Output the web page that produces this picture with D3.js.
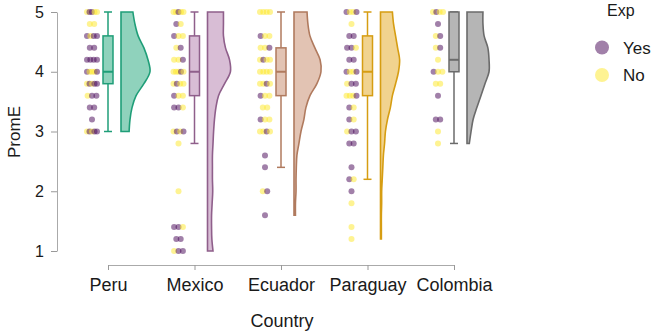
<!DOCTYPE html>
<html>
<head>
<meta charset="utf-8">
<script src="https://cdn.jsdelivr.net/npm/d3@7"></script>
<style>
  body { margin: 0; background: #fff; }
  text { font-family: "Liberation Sans", Arial, sans-serif; fill: #1a1a1a; }
</style>
</head>
<body>
<div id="chart"></div>
<script>
const countries = ["Peru", "Mexico", "Ecuador", "Paraguay", "Colombia"];
const yTicks = [1, 2, 3, 4, 5];
const expLevels = ["Yes", "No"];

// box stats: [lower whisker, q1, median, q3, upper whisker]
const boxStats = [
  [3.0, 3.8, 4.0, 4.6, 5.0],
  [2.8, 3.6, 4.0, 4.6, 5.0],
  [2.4, 3.6, 4.0, 4.4, 5.0],
  [2.2, 3.6, 4.0, 4.6, 5.0],
  [2.8, 4.0, 4.2, 5.0, 5.0]
];

// half-violin density, from 5.0 down in steps of 0.2
const densPeru = [.41, .48, .59, .79, .93, 1, .79, .52, .38, .31, .28];
const densMexico = [.55, .55, .55, .62, .76, .79, .59, .38, .29, .24, .21, .19, .17, .17, .17, .18, .16, .14, .14, .15, .19];
const densEcuador = [.45, .48, .55, .72, .9, .93, .79, .55, .41, .34, .24, .17, .1, .08, .07, .07, .05, .05];
const densParaguay = [.41, .45, .52, .59, .66, .62, .52, .41, .34, .24, .17, .14, .1, .08, .06, .04, .04, .03, .03, .03];
const densColombia = [.55, .55, .59, .72, .76, .76, .62, .48, .34, .21, .14, .08];

// points per row: [PromE, Exp codes (Y = Yes, N = No)]
const ptsPeru = [[5.0, "NYYNN"], [4.8, "NN"], [4.6, "YNYY"], [4.4, "YY"], [4.2, "YYYY"], [4.0, "YNNNY"],
  [3.8, "NYNYY"], [3.6, "NYY"], [3.4, "YY"], [3.2, "Y"], [3.0, "NYNYY"]];
const ptsMexico = [[5.0, "NNYNN"], [4.8, "YN"], [4.6, "YNN"], [4.4, "NY"], [4.2, "NNY"], [4.0, "NNNYN"],
  [3.8, "NYNN"], [3.6, "YNN"], [3.4, "YYN"], [3.0, "NYNY"], [2.8, "N"], [2.0, "N"], [1.4, "YYN"], [1.2, "YY"], [1.0, "NYY"]];
const ptsEcuador = [[5.0, "NNNN"], [4.6, "YNN"], [4.4, "NNY"], [4.2, "NYNN"], [4.0, "NNNN"], [3.8, "NNYN"],
  [3.6, "YNN"], [3.4, "NN"], [3.2, "YNN"], [3.0, "NNYN"], [2.6, "Y"], [2.4, "Y"], [2.0, "NY"], [1.6, "Y"]];
const ptsParaguay = [[5.0, "YNNY"], [4.8, "N"], [4.6, "YY"], [4.4, "YYN"], [4.2, "YY"], [4.0, "YNNY"],
  [3.8, "NYY"], [3.6, "NNNY"], [3.4, "YN"], [3.2, "YN"], [3.0, "NYY"], [2.8, "YY"], [2.4, "Y"], [2.2, "YN"],
  [2.0, "Y"], [1.8, "N"], [1.4, "N"], [1.2, "N"]];
const ptsColombia = [[5.0, "NYNN"], [4.8, "Y"], [4.6, "NY"], [4.4, "NY"], [4.2, "N"], [4.0, "YNN"],
  [3.8, "NN"], [3.6, "Y"], [3.2, "YY"], [3.0, "N"], [2.8, "N"]];

const densities = [densPeru, densMexico, densEcuador, densParaguay, densColombia];
const points = [ptsPeru, ptsMexico, ptsEcuador, ptsParaguay, ptsColombia];

const strokeCols = ["#1f9e78", "#8f5f8b", "#b07a5e", "#d69d12", "#6b6b6b"];
const fillCols = ["#8fd2bc", "#d8bdd5", "#e2c3b3", "#f1d38f", "#b5b5b5"];
const expCols = { Y: "#440154", N: "#FDE725" };

const width = 661, height = 331;
const svg = d3.select("#chart").append("svg")
  .attr("width", width).attr("height", height);

const x = d3.scalePoint().domain(countries).range([108, 454]);
const y = d3.scaleLinear().domain([1, 5]).range([251, 12]);
const w = d3.scaleLinear().domain([0, 1]).range([0, 29]);

// axes
const yAxis = svg.append("g")
  .attr("transform", "translate(57,0)")
  .call(d3.axisLeft(y).tickValues(yTicks).tickFormat(d3.format("d"))
    .tickSize(6).tickSizeOuter(0).tickPadding(7));
const xAxis = svg.append("g")
  .attr("transform", "translate(0,265)")
  .call(d3.axisBottom(x).tickSize(5).tickSizeOuter(0).tickPadding(8));
[xAxis, yAxis].forEach(g => {
  g.select(".domain").attr("stroke", "#aaa");
  g.selectAll(".tick line").attr("stroke", "#999");
  g.selectAll("text").attr("fill", "#1a1a1a").attr("font-family", "Liberation Sans, Arial, sans-serif");
});
yAxis.selectAll("text").attr("font-size", 16);
xAxis.selectAll("text").attr("font-size", 18);

svg.append("text").attr("x", 282).attr("y", 327)
  .attr("text-anchor", "middle").attr("font-size", 18).text("Country");
svg.append("text").attr("transform", "translate(20,132) rotate(-90)")
  .attr("text-anchor", "middle").attr("font-size", 17).text("PromE");

countries.forEach((c, i) => {
  const cx = x(c);
  const g = svg.append("g");

  // half violin
  const dens = densities[i].map((d, k) => ({ v: 5 - k * 0.2, d }));
  const area = d3.area()
    .y(d => y(d.v))
    .x0(cx + 13)
    .x1(d => cx + 13 + w(d.d))
    .curve(d3.curveCatmullRom.alpha(0.5));
  g.append("path").datum(dens)
    .attr("d", area)
    .attr("fill", fillCols[i]).attr("stroke", strokeCols[i]).attr("stroke-width", 1.6);

  // boxplot
  const [lo, q1, med, q3, hi] = boxStats[i];
  const bw = 10, cw = 8;
  g.append("line").attr("x1", cx).attr("x2", cx).attr("y1", y(lo)).attr("y2", y(q1))
    .attr("stroke", strokeCols[i]).attr("stroke-width", 1.5);
  g.append("line").attr("x1", cx).attr("x2", cx).attr("y1", y(hi)).attr("y2", y(q3))
    .attr("stroke", strokeCols[i]).attr("stroke-width", 1.5);
  [lo, hi].forEach(v => {
    g.append("line").attr("x1", cx - cw / 2).attr("x2", cx + cw / 2).attr("y1", y(v)).attr("y2", y(v))
      .attr("stroke", strokeCols[i]).attr("stroke-width", 1.5);
  });
  g.append("rect").attr("x", cx - bw / 2).attr("width", bw)
    .attr("y", y(q3)).attr("height", y(q1) - y(q3))
    .attr("fill", fillCols[i]).attr("stroke", strokeCols[i]).attr("stroke-width", 1.5);
  g.append("line").attr("x1", cx - bw / 2).attr("x2", cx + bw / 2).attr("y1", y(med)).attr("y2", y(med))
    .attr("stroke", strokeCols[i]).attr("stroke-width", 2);

  // jittered points
  const pc = cx - 16;
  points[i].forEach(([v, codes]) => {
    const n = codes.length;
    const hw = Math.min(5, (n - 1) * 2.2);
    const px = d3.scalePoint().domain(d3.range(n)).range([pc - hw, pc + hw]);
    codes.split("").forEach((code, k) => {
      g.append("circle")
        .attr("cx", px(k)).attr("cy", y(v)).attr("r", 3)
        .attr("fill", expCols[code]).attr("fill-opacity", 0.5);
    });
  });
});

// legend
const legend = svg.append("g");
legend.append("text").attr("x", 607).attr("y", 16).attr("font-size", 16).text("Exp");
expLevels.forEach((lab, k) => {
  const ly = 47.5 + k * 27.5;
  legend.append("circle").attr("cx", 602).attr("cy", ly).attr("r", 7)
    .attr("fill", expCols[lab === "Yes" ? "Y" : "N"]).attr("fill-opacity", 0.5);
  legend.append("text").attr("x", 623).attr("y", ly).attr("dy", "0.36em")
    .attr("font-size", 17).text(lab);
});
</script>
</body>
</html>
